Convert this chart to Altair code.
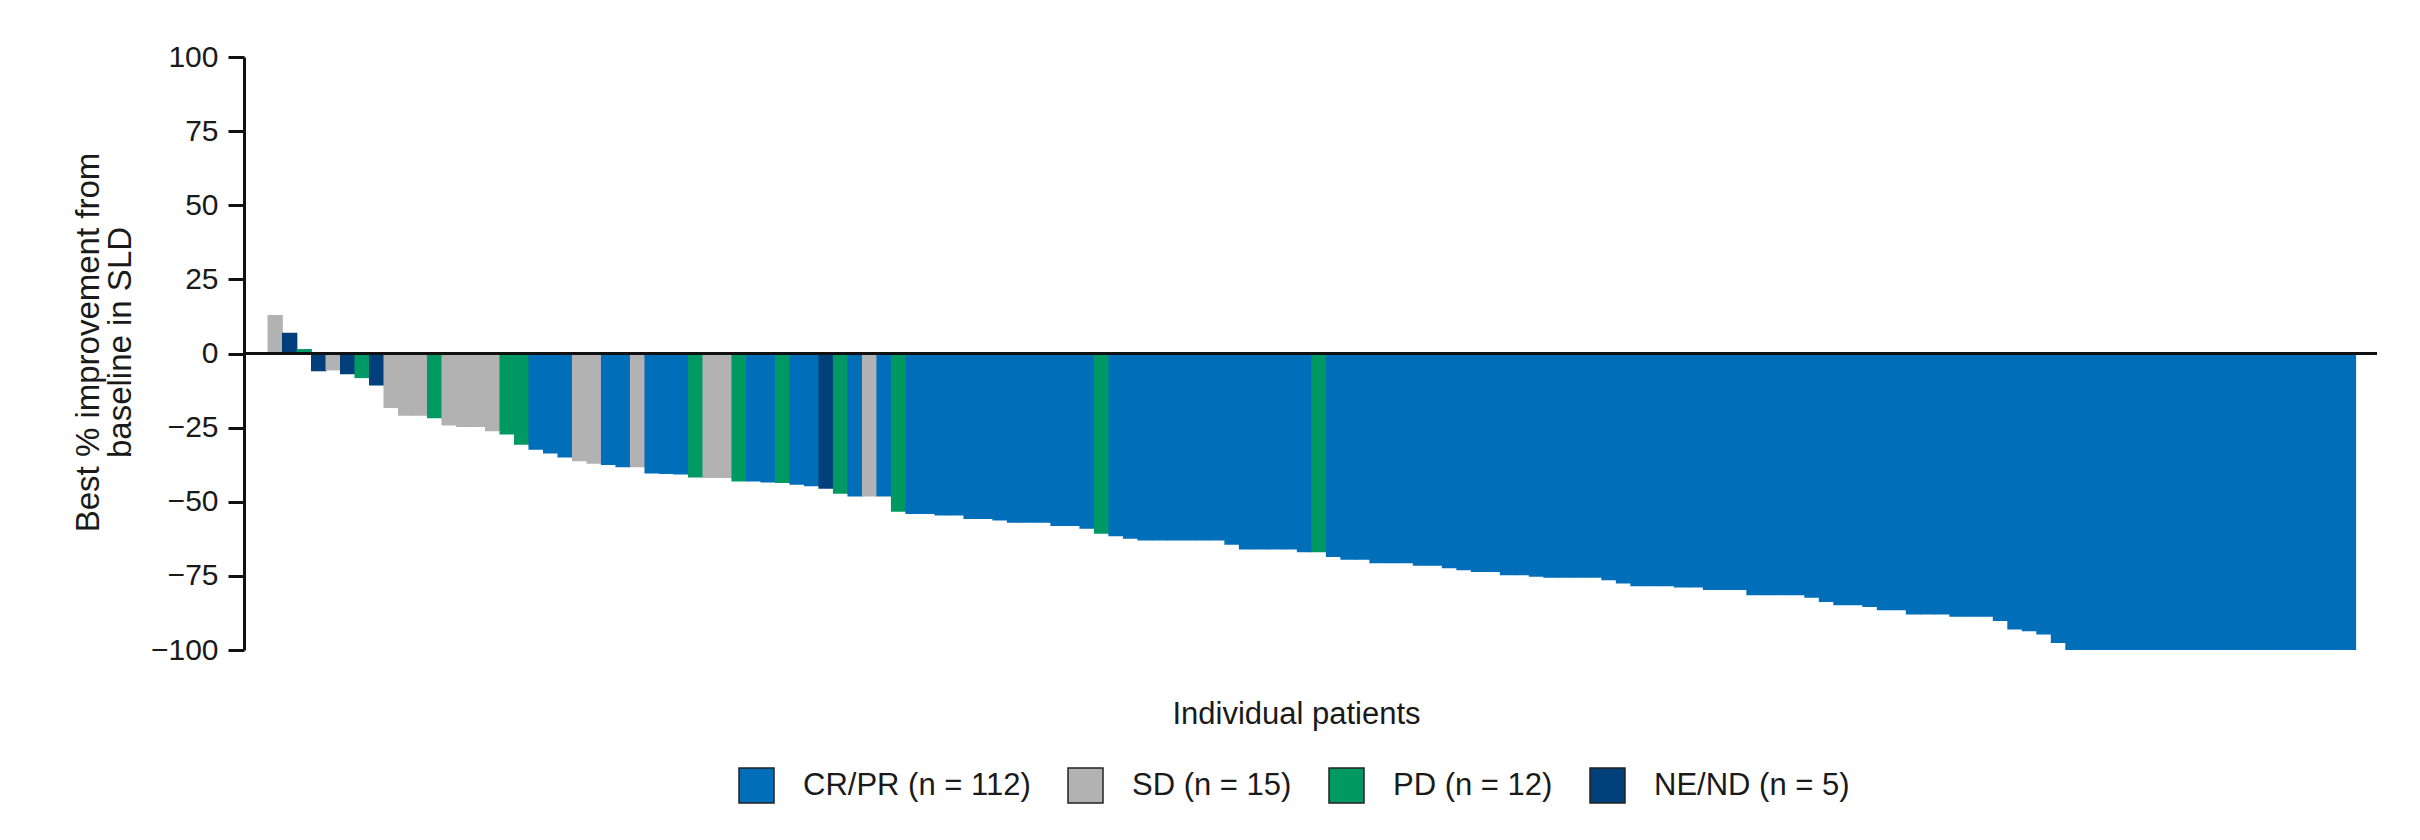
import altair as alt
import pandas as pd

# Best % change from baseline in SLD, one value per patient (waterfall order)
best_change = [
    13, 7, 1.5, -6, -5.7, -7, -8.3, -10.8, -18.4, -21,
    -21, -21.8, -24.3, -24.8, -24.8, -26.2, -27.3, -30.8, -32.5, -33.7,
    -35.1, -36.3, -37.2, -37.6, -38.4, -38.4, -40.5, -40.6, -40.8, -41.8,
    -42, -42, -43.2, -43.2, -43.5, -43.7, -44.3, -44.8, -45.6, -47.3,
    -48.2, -48.2, -48.2, -53.4, -54.1, -54.1, -54.6, -54.6, -55.8, -55.8,
    -56.3, -57.1, -57.1, -57.1, -58.2, -58.2, -59.1, -60.8, -61.6, -62.5,
    -63.1, -63.1, -63.1, -63.1, -63.1, -63.1, -64.5, -66.1, -66.1, -66.1,
    -66.1, -67, -67, -68.6, -69.6, -69.6, -70.7, -70.7, -70.7, -71.6,
    -71.6, -72.4, -73.1, -73.7, -73.7, -74.8, -74.8, -75.3, -75.6, -75.6,
    -75.6, -75.6, -76.5, -77.6, -78.5, -78.5, -78.5, -78.9, -78.9, -79.8,
    -79.8, -79.8, -81.5, -81.5, -81.5, -81.5, -82.4, -83.8, -84.9, -84.9,
    -85.5, -86.6, -86.6, -88, -88, -88, -88.8, -88.8, -88.8, -90.2,
    -93.1, -93.7, -94.8, -97.6, -100, -100, -100, -100, -100, -100,
    -100, -100, -100, -100, -100, -100, -100, -100, -100, -100,
    -100, -100, -100, -100,
]

# Best overall response per patient
response = [
    "SD", "NE", "PD", "NE", "SD", "NE", "PD", "NE", "SD", "SD",
    "SD", "PD", "SD", "SD", "SD", "SD", "PD", "PD", "CR", "CR",
    "CR", "SD", "SD", "CR", "CR", "SD", "CR", "CR", "CR", "PD",
    "SD", "SD", "PD", "CR", "CR", "PD", "CR", "CR", "NE", "PD",
    "CR", "SD", "CR", "PD", "CR", "CR", "CR", "CR", "CR", "CR",
    "CR", "CR", "CR", "CR", "CR", "CR", "CR", "PD", "CR", "CR",
    "CR", "CR", "CR", "CR", "CR", "CR", "CR", "CR", "CR", "CR",
    "CR", "CR", "PD", "CR", "CR", "CR", "CR", "CR", "CR", "CR",
    "CR", "CR", "CR", "CR", "CR", "CR", "CR", "CR", "CR", "CR",
    "CR", "CR", "CR", "CR", "CR", "CR", "CR", "CR", "CR", "CR",
    "CR", "CR", "CR", "CR", "CR", "CR", "CR", "CR", "CR", "CR",
    "CR", "CR", "CR", "CR", "CR", "CR", "CR", "CR", "CR", "CR",
    "CR", "CR", "CR", "CR", "CR", "CR", "CR", "CR", "CR", "CR",
    "CR", "CR", "CR", "CR", "CR", "CR", "CR", "CR", "CR", "CR",
    "CR", "CR", "CR", "CR",
]

codes = ["CR", "SD", "PD", "NE"]
legend_labels = ["CR/PR (n = 112)", "SD (n = 15)", "PD (n = 12)", "NE/ND (n = 5)"]
colors = ["#006EB8", "#B2B2B2", "#009964", "#003F7A"]
y_ticks = [-100, -75, -50, -25, 0, 25, 50, 75, 100]

label_of = dict(zip(codes, legend_labels))
df = pd.DataFrame({
    "patient": list(range(len(best_change))),
    "change": best_change,
    "response": [label_of[r] for r in response],
})

FONT = "Liberation Sans"
TXT = "#1a1a1a"

bars = alt.Chart(df).transform_calculate(
    patient_end="datum.patient + 1.06"
).mark_bar(opacity=1, strokeWidth=0).encode(
    x=alt.X(
        "patient:Q",
        scale=alt.Scale(domain=[-1.62, 145.5], nice=False, zero=False),
        axis=alt.Axis(
            title="Individual patients", labels=False, ticks=False, domain=False,
            grid=False, titleX=1052, titleY=73, titleBaseline="alphabetic",
            titleFontSize=31, titleFont=FONT, titleFontWeight="normal", titleColor=TXT,
        ),
    ),
    x2="patient_end:Q",
    y=alt.Y(
        "change:Q",
        scale=alt.Scale(domain=[-100, 100], nice=False),
        axis=alt.Axis(
            values=y_ticks, grid=False, tickSize=16, tickWidth=3, domainWidth=3,
            tickColor="#111111", domainColor="#111111",
            labelFontSize=30, labelFont=FONT, labelColor=TXT, labelPadding=10,
            title=["Best % improvement from", "baseline in SLD"],
            titleFontSize=33, titleFont=FONT, titleFontWeight="normal", titleColor=TXT,
            titleX=-172, titleY=285, titleLineHeight=32, titleBaseline="top",
            titleAngle=270,
        ),
    ),
    y2=alt.datum(0),
    color=alt.Color(
        "response:N",
        scale=alt.Scale(domain=legend_labels, range=colors),
        legend=alt.Legend(
            title=None, orient="none", legendX=494, legendY=710, direction="horizontal",
            symbolType="square", symbolSize=1225, symbolStrokeColor="#222222",
            symbolStrokeWidth=1.5, symbolOpacity=1, labelFontSize=31, labelFont=FONT,
            labelColor=TXT, labelOffset=28, columnPadding=34, symbolLimit=0,
            labelLimit=500,
        ),
    ),
)

zero_df = pd.DataFrame({"zero": [0]})
zero_line = alt.Chart(zero_df).mark_rule(color="#111111", strokeWidth=3).encode(
    y=alt.Y("zero:Q", scale=alt.Scale(domain=[-100, 100], nice=False))
)

chart = alt.layer(bars, zero_line).properties(
    width=2133, height=593,
    autosize=alt.AutoSizeParams(type="none"),
    padding={"left": 236, "top": 49, "right": 35, "bottom": 182},
    background="white",
).configure_view(stroke=None)

chart.save("out.html", embed_options={"renderer": "svg", "actions": False})
